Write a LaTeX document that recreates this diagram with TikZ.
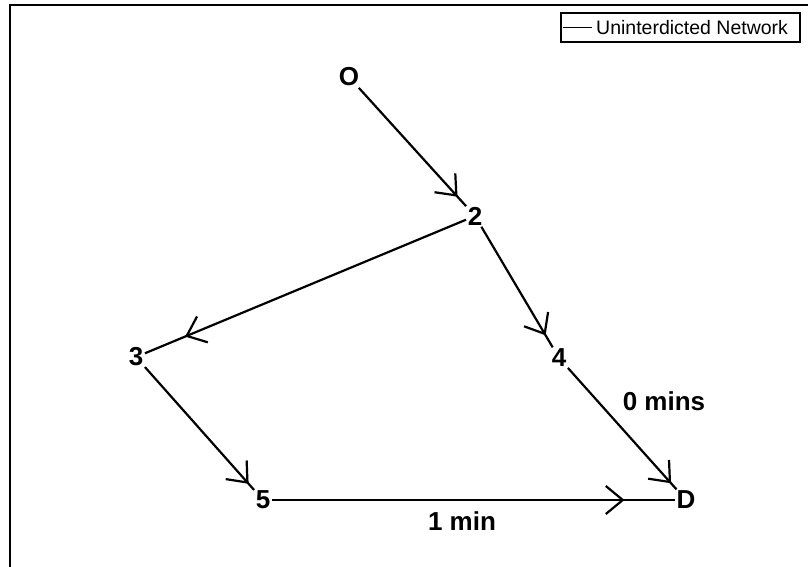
\documentclass[tikz,border=0pt]{standalone}
\usepackage{fontspec}
\setmainfont{Liberation Sans}
\usetikzlibrary{arrows.meta, decorations.markings}

\begin{document}
\begin{tikzpicture}[x=1pt, y=-1pt,
          % Node styles
          stop/.style={font=\fontsize{26}{28}\selectfont\bfseries, inner sep=1.5pt},
          timelbl/.style={font=\fontsize{26}{28}\selectfont\bfseries, inner sep=0pt},
          legendtxt/.style={font=\fontsize{19.5}{22}\selectfont, inner sep=0pt},
          % Arrow style: open barb placed along the edge
          flow/.style={line width=2.2pt, postaction={decorate},
            decoration={markings, mark=at position #1 with {\arrow{Straight Barb[length=17pt,width=28pt]}}}}
        ]
          \useasboundingbox (0,0) rectangle (808,567);

          % ==========================================
          % 1. Frame and legend
          % ==========================================
          \draw[line width=1.8pt] (10,567) -- (10,5) -- (808,5);
          \draw[line width=1.4pt, fill=white] (561,13) rectangle (800,42);
          \coordinate (legA) at (563,28);
          \node[legendtxt, anchor=west] (legtext) at (596,28) {Uninterdicted Network};
          \draw[line width=1pt] (legA) -- ++(29,0);

          % ==========================================
          % 2. Network nodes
          % ==========================================
          \node[stop] (O) at (349,77) {O};
          \node[stop] (n2) at (475,216) {2};
          \node[stop] (n3) at (136,357) {3};
          \node[stop] (n4) at (559,358) {4};
          \node[stop] (n5) at (263,500) {5};
          \node[stop] (D) at (686,500) {D};

          % ==========================================
          % 3. Edges
          % ==========================================
          \draw[flow=0.92] (O) -- (n2);
          \draw[flow=0.9] (n2) -- (n4);
          \draw[flow=0.875] (n2) -- (n3);
          \draw[flow=0.95] (n3) -- (n5);
          \draw[flow=0.95] (n4) -- (D);
          \draw[flow=0.875] (n5) -- (D);

          % Travel time labels
          \node[timelbl] (t4D) at (664,401) {0 mins};
          \node[timelbl] (t5D) at (462,521) {1 min};
        \end{tikzpicture}
\end{document}
